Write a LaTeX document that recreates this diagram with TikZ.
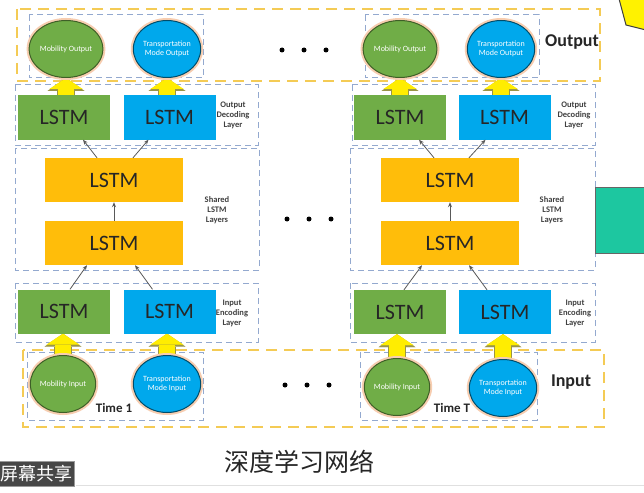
\documentclass[tikz,border=0pt]{standalone}
\usepackage{fontspec}
\setmainfont{Carlito}
\newfontfamily\cjk{Noto Sans CJK SC}
\usetikzlibrary{arrows.meta,shapes.geometric,backgrounds}
\definecolor{lgreen}{HTML}{70AD47}
\definecolor{lblue}{HTML}{00A8EC}
\definecolor{lorange}{HTML}{FFBD0A}
\definecolor{frameyel}{HTML}{F4CB55}
\definecolor{frameblu}{HTML}{93A9CF}
\definecolor{halo}{HTML}{F7CDB0}
\definecolor{tealbox}{HTML}{1DC7A0}
\tikzset{
  lstm/.style={rectangle, minimum width=92pt, minimum height=44pt, inner sep=0pt, font=\fontsize{22}{22}\selectfont, text=black!85},
  lstmg/.style={lstm, fill=lgreen},
  lstmb/.style={lstm, fill=lblue},
  lstmo/.style={lstm, fill=lorange, minimum width=138pt},
  io/.style={ellipse, minimum width=62pt, minimum height=57pt, inner sep=0pt, line width=1pt, preaction={draw=halo, line width=5pt}, text=white, align=center, font=\fontsize{8}{9.5}\selectfont},
  iog/.style={io, fill=lgreen, draw=lgreen!55!black},
  iob/.style={io, fill=lblue, draw=lblue!45!black},
  lbl/.style={align=center, font=\bfseries\fontsize{8.5}{10}\selectfont, text=black!75},
  big/.style={font=\bfseries\fontsize{18}{18}\selectfont, text=black!85},
  timelbl/.style={font=\bfseries\fontsize{13}{13}\selectfont, text=black!85},
  dot/.style={circle, fill, inner sep=0pt, minimum size=5pt},
  yframe/.style={draw=frameyel, line width=2.5pt, dash pattern=on 11pt off 7pt},
  bframe/.style={draw=frameblu, line width=1pt, dash pattern=on 6pt off 4pt},
  link/.style={draw=black!65, line width=0.8pt, -{Stealth[length=5pt,width=4pt]}},
  fat/.style={line width=16pt, draw=yellow!95!orange, -{Triangle[width=33pt,length=11pt,line width=0.01pt]}, preaction={draw=yellow!55!black, line width=18pt, -{Triangle[width=37pt,length=13pt,line width=0.01pt]}}}
}
\begin{document}
\begin{tikzpicture}[x=1pt,y=-1pt]
\useasboundingbox (0,0) rectangle (644,492);
\node[iog] (mo1) at (66,49) {Mobility Output};
\node[iob] (to1) at (167,49) {Transportation\\Mode Output};
\node[iog] (moT) at (400,49) {Mobility Output};
\node[iob] (toT) at (501,49) {Transportation\\Mode Output};
\node[lstmg] (dg1) at (64,117.5) {LSTM};
\node[lstmb] (db1) at (169.5,117.5) {LSTM};
\node[lstmg] (dgT) at (400,117.5) {LSTM};
\node[lstmb] (dbT) at (504.5,117.5) {LSTM};
\node[lstmo] (sa1) at (114,180) {LSTM};
\node[lstmo] (sb1) at (114,243) {LSTM};
\node[lstmo] (saT) at (450,180) {LSTM};
\node[lstmo] (sbT) at (450,243) {LSTM};
\node[lstmg] (eg1) at (64,311.5) {LSTM};
\node[lstmb] (eb1) at (169.5,311.5) {LSTM};
\node[lstmg] (egT) at (400,312) {LSTM};
\node[lstmb] (ebT) at (505,312) {LSTM};
\node[iog] (mi1) at (63,384) {Mobility Input};
\node[iob] (ti1) at (167,384) {Transportation\\Mode Input};
\node[iog] (miT) at (397,387) {Mobility Input};
\node[iob] (tiT) at (503,388) {Transportation\\Mode Input};
\node[lbl] (ld1) at (233,115) {Output\\Decoding\\Layer};
\node[lbl] (ls1) at (217,210) {Shared\\LSTM\\Layers};
\node[lbl] (le1) at (232,313) {Input\\Encoding\\Layer};
\node[lbl] (ldT) at (574,115) {Output\\Decoding\\Layer};
\node[lbl] (lsT) at (552,210) {Shared\\LSTM\\Layers};
\node[lbl] (leT) at (575,313) {Input\\Encoding\\Layer};
\node[big] (outl) at (572,42) {Output};
\node[big] (inl) at (571,382) {Input};
\node[timelbl] (t1) at (114,408) {Time 1};
\node[timelbl] (tT) at (452,408) {Time T};
\foreach \i/\x in {1/282,2/304,3/326} \node[dot] (dtop\i) at (\x,50) {};
\foreach \i/\x in {1/287,2/309,3/331} \node[dot] (dmid\i) at (\x,219) {};
\foreach \i/\x in {1/285,2/307,3/329} \node[dot] (dbot\i) at (\x,385) {};
\draw[link] ([xshift=-17pt]sa1.north) -- ([xshift=19pt]dg1.south);
\draw[link] ([xshift=19pt]sa1.north) -- ([xshift=-21pt]db1.south);
\draw[link] (sb1.north) -- (sa1.south);
\draw[link] ([xshift=6pt]eg1.north) -- ([xshift=-27pt]sb1.south);
\draw[link] ([xshift=-17pt]eb1.north) -- ([xshift=21pt]sb1.south);
\draw[link] ([xshift=-16pt]saT.north) -- ([xshift=19pt]dgT.south);
\draw[link] ([xshift=19pt]saT.north) -- ([xshift=-19pt]dbT.south);
\draw[link] (sbT.north) -- (saT.south);
\draw[link] ([xshift=4pt]egT.north) -- ([xshift=-28pt]sbT.south);
\draw[link] ([xshift=-18pt]ebT.north) -- ([xshift=19pt]sbT.south);
\node[font=\cjk\fontsize{25}{25}\selectfont, text=black!85] (cap) at (299,462) {深度学习网络};
\node[fill=black!72, draw=black!40, text=white!85, font=\cjk\fontsize{18}{18}\selectfont, minimum height=25pt, inner sep=2pt] (share) at (36,474) {屏幕共享};
\draw[fill=tealbox, draw=black!60, line width=1pt] (595,187) rectangle (650,253);
\draw[fill=yellow, draw=black!75, line width=1pt] (618,-5) -- (626,25) -- (650,31) -- (650,-5) -- cycle;
\begin{pgfonlayer}{background}
\fill[white] (0,0) rectangle (644,492);
\draw[black!12, line width=1pt] (76,485) -- (644,485);
\draw[yframe] (17,9) rectangle (600,81);
\draw[yframe] (23,350) rectangle (604,427);
\draw[bframe] (29,15) rectangle (203,78);
\draw[bframe] (365,15) rectangle (539,78);
\draw[bframe] (15,85) rectangle (258,145);
\draw[bframe] (352,85) rectangle (595,145);
\draw[bframe] (15,148) rectangle (259,270);
\draw[bframe] (350,148) rectangle (595,270);
\draw[bframe] (15,283) rectangle (258,342);
\draw[bframe] (350,283) rectangle (595,342);
\draw[bframe] (27,352) rectangle (203,420);
\draw[bframe] (360,352) rectangle (537,420);
\draw[fat] (dg1.center -| mo1.south) -- (mo1.south);
\draw[fat] (db1.center -| to1.south) -- (to1.south);
\draw[fat] (dgT.center -| moT.south) -- (moT.south);
\draw[fat] (dbT.center -| toT.south) -- (toT.south);
\draw[fat] (mi1.center) -- (mi1.center |- eg1.south);
\draw[fat] (ti1.center) -- (ti1.center |- eb1.south);
\draw[fat] (miT.center) -- (miT.center |- egT.south);
\draw[fat] (tiT.center) -- (tiT.center |- ebT.south);
\end{pgfonlayer}
\end{tikzpicture}
\end{document}
